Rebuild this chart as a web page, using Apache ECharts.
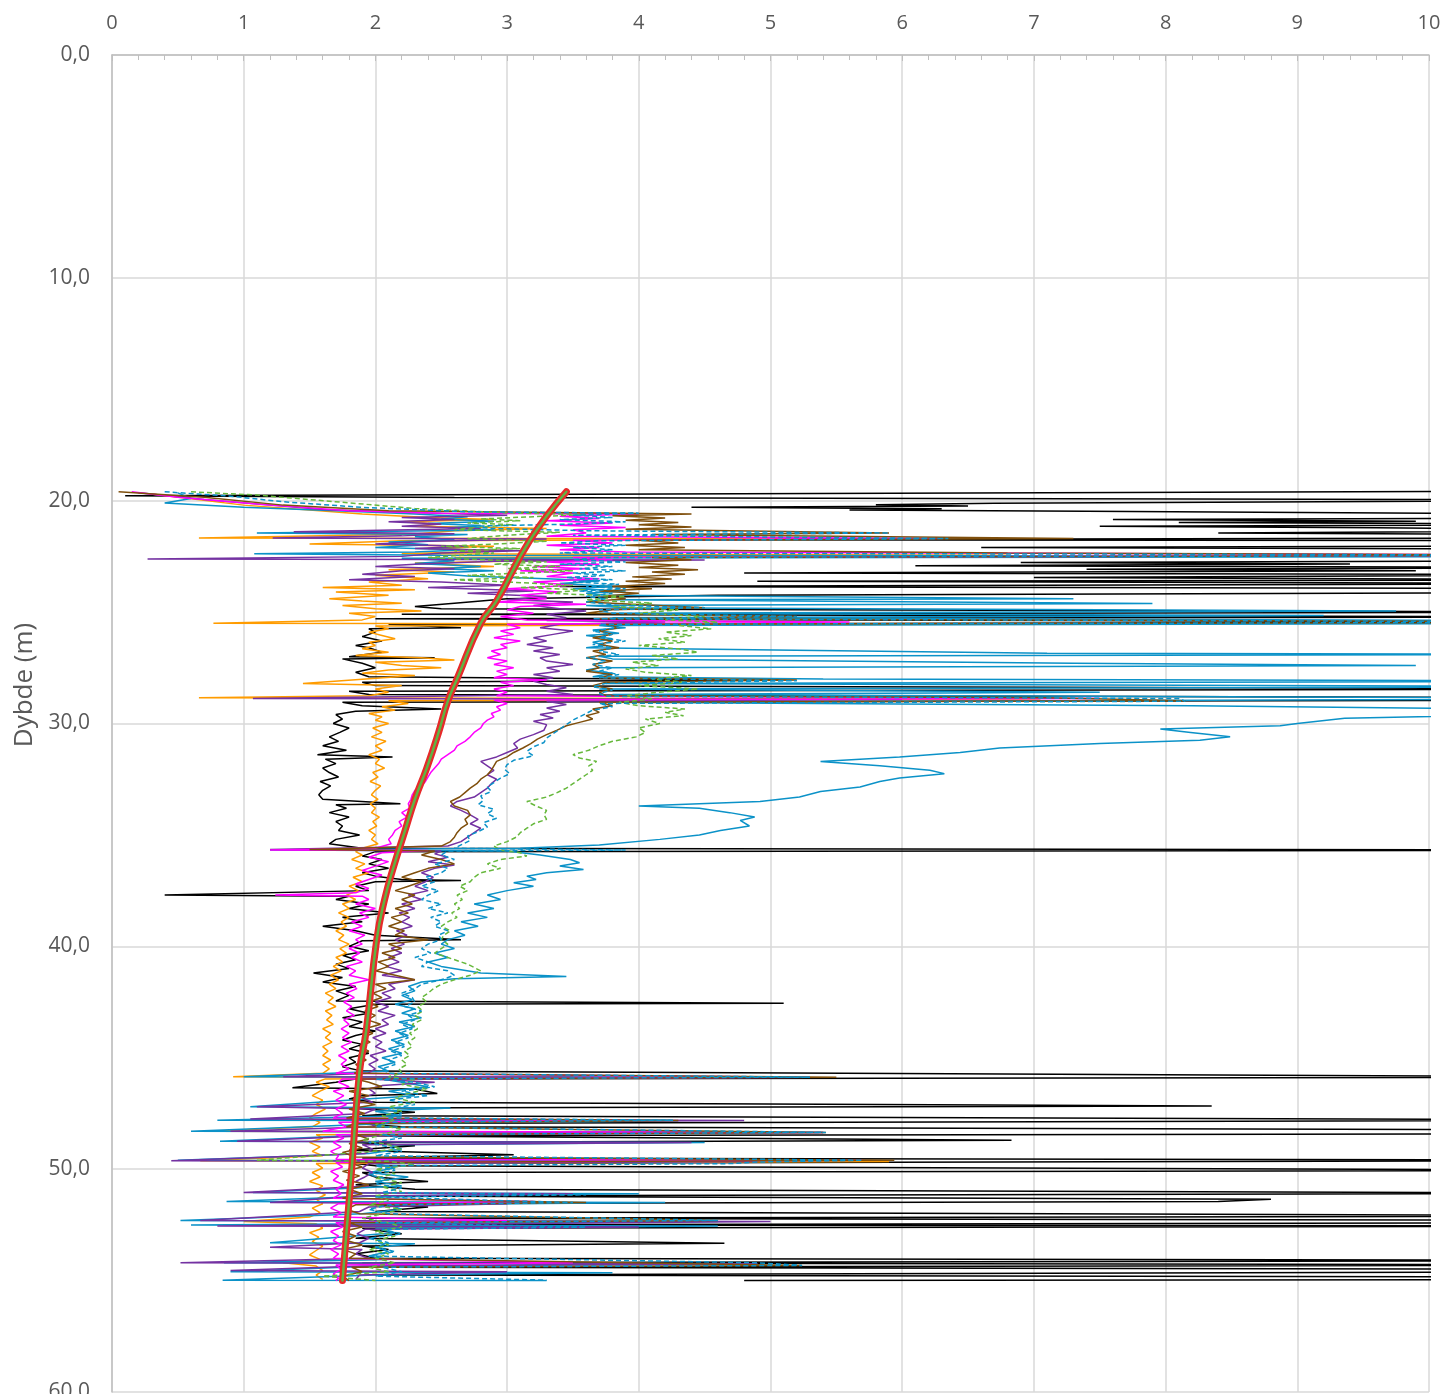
<!DOCTYPE html>
<html>
<head>
<meta charset="utf-8">
<script src="https://cdn.jsdelivr.net/npm/echarts@6/dist/echarts.min.js"></script>
<style>
  html, body { margin: 0; padding: 0; background: #fff; }
  #chart { width: 1441px; height: 1394px; }
</style>
</head>
<body>
<div id="chart"></div>
<script>
// Sounding logs: each entry is [value, depth (m)]
const blackLog = [
  [12,19.55],[0.1,19.78],[2.6,19.86],[12,19.97],[6.7,20.12],[5.8,20.18],[6.5,20.24],[4.4,20.3],[6.3,20.36],[5.6,20.42],[7.4,20.48],
  [12,20.62],[12,20.75],[7.6,20.85],[9.9,20.92],[8.1,20.98],[12,21.06],[7.5,21.15],[9.6,21.22],[12,21.32],[8.4,21.45],[12,21.55],
  [12,21.66],[4.3,21.75],[12,21.8],[12,21.92],[12,22.02],[6.6,22.1],[12,22.2],[12,22.35],[12,22.55],[12,22.68],[6.9,22.78],[9.4,22.84],
  [6.1,22.92],[12,23.0],[7.4,23.08],[9.9,23.15],[4.8,23.25],[12,23.32],[7.0,23.45],[12,23.55],[4.9,23.62],[12,23.72],[3.4,23.85],
  [12,23.95],[12,24.1],[4.6,24.25],[3.0,24.4],[2.6,24.6],[2.3,24.75],[2.5,24.85],[12,25.0],[2.2,25.1],[12,25.22],[2.0,25.3],[12,25.45],
  [2.1,25.55],[2.65,25.7],[1.95,25.75],[2.0,25.9],[1.9,26.1],[2.05,26.3],[1.85,26.5],[1.95,26.6],[2.05,26.8],[1.8,27.0],[2.45,27.05],
  [1.75,27.1],[1.9,27.3],[2.0,27.5],[1.85,27.7],[1.95,27.9],[4.9,28.05],[1.9,28.15],[2.0,28.3],[12,28.45],[1.8,28.55],[1.95,28.7],
  [12,28.85],[12,28.95],[1.75,29.05],[1.9,29.2],[2.5,29.35],[1.85,29.45],[1.7,29.6],[1.75,29.8],[1.68,30.0],[1.8,30.2],[1.73,30.4],
  [1.65,30.6],[1.72,30.8],[1.6,31.0],[1.78,31.2],[1.56,31.4],[2.13,31.5],[1.62,31.6],[1.7,31.8],[1.6,32.0],[1.65,32.2],[1.72,32.4],
  [1.58,32.6],[1.66,32.8],[1.6,33.0],[1.57,33.2],[1.6,33.4],[2.19,33.6],[1.7,33.65],[1.78,33.8],[1.65,34.0],[1.8,34.2],[1.7,34.4],
  [1.75,34.6],[1.72,34.8],[1.88,35.0],[1.7,35.2],[1.65,35.4],[1.9,35.6],[12,35.68],[2.0,35.75],[1.9,35.95],[2.05,36.1],[1.95,36.3],
  [2.1,36.5],[1.9,36.7],[2.0,36.85],[2.2,37.0],[2.65,37.05],[2.0,37.1],[1.85,37.3],[1.95,37.5],[0.4,37.7],[1.8,37.75],[1.7,37.9],
  [1.95,38.1],[1.8,38.3],[2.1,38.5],[1.75,38.7],[1.9,38.9],[1.6,39.1],[1.85,39.3],[2.0,39.5],[2.65,39.7],[1.9,39.75],[1.8,40.0],
  [1.95,40.2],[1.75,40.4],[1.85,40.6],[1.7,40.8],[1.8,41.0],[1.53,41.2],[1.75,41.4],[1.6,41.6],[1.85,41.8],[1.7,42.0],[1.8,42.2],
  [1.7,42.45],[5.1,42.55],[2.0,42.6],[1.8,42.8],[1.95,43.0],[1.75,43.2],[1.9,43.4],[1.8,43.6],[2.0,43.8],[1.85,44.0],[1.75,44.2],
  [1.9,44.4],[1.8,44.6],[1.95,44.8],[1.8,45.0],[1.85,45.2],[1.75,45.4],[1.9,45.6],[12,45.87],[1.85,45.95],[1.7,46.1],[1.37,46.35],
  [2.3,46.4],[2.47,46.6],[1.9,46.7],[1.8,46.85],[2.0,47.0],[8.35,47.17],[1.8,47.25],[2.3,47.45],[1.9,47.6],[12,47.8],[1.85,47.95],
  [2.2,48.1],[12,48.25],[12,48.4],[1.9,48.5],[6.83,48.7],[1.85,48.8],[2.3,48.95],[1.8,49.15],[3.05,49.35],[1.9,49.5],[12,49.6],
  [1.85,49.75],[2.0,49.85],[12,50.05],[1.9,50.15],[2.0,50.35],[2.4,50.55],[1.85,50.7],[2.3,50.9],[12,51.08],[1.9,51.2],[8.8,51.35],
  [8.4,51.45],[1.85,51.55],[2.4,51.7],[2.0,51.9],[12,52.1],[1.9,52.2],[12,52.3],[12,52.4],[1.85,52.5],[12,52.55],[1.9,52.65],
  [2.2,52.9],[1.85,53.1],[4.65,53.32],[1.9,53.45],[2.1,53.6],[1.85,53.8],[2.0,54.0],[12,54.1],[1.9,54.2],[12,54.3],[2.1,54.4],
  [12,54.5],[12,54.6],[2.0,54.75],[12,54.85],[12,54.95],[4.8,55.0]
];

const orangeLog = [
  [0.3,19.7],[1.0,20.2],[1.9,20.6],[2.4,20.75],[2.9,20.85],[2.2,20.95],[2.5,21.05],[2.3,21.15],[3.3,21.25],[2.6,21.35],[2.3,21.5],
  [0.66,21.68],[5.9,21.72],[2.2,21.8],[1.5,21.95],[2.9,22.05],[2.4,22.15],[3.0,22.25],[2.2,22.38],[6.8,22.45],[2.6,22.55],[3.6,22.65],
  [2.3,22.8],[2.9,22.95],[2.1,23.1],[2.6,23.2],[2.0,23.35],[2.4,23.5],[1.95,23.65],[2.2,23.8],[1.6,23.9],[2.3,24.0],[1.7,24.1],
  [2.1,24.25],[1.65,24.4],[1.9,24.5],[2.2,24.6],[1.75,24.7],[2.0,24.85],[2.35,24.95],[1.8,25.05],[2.0,25.2],[1.9,25.35],[0.77,25.5],
  [6.3,25.55],[2.0,25.62],[2.1,25.75],[1.95,25.9],[2.05,26.05],[2.15,26.2],[1.95,26.35],[2.0,26.5],[1.9,26.65],[2.1,26.8],[1.85,26.95],
  [2.35,27.05],[2.6,27.15],[2.0,27.25],[2.2,27.4],[2.5,27.5],[2.1,27.6],[1.9,27.75],[2.3,27.85],[1.45,28.2],[2.2,28.3],[2.0,28.45],
  [2.1,28.6],[1.95,28.75],[0.66,28.85],[7.05,28.9],[2.1,28.98],[2.25,29.1],[2.05,29.25],[2.15,29.4],[1.95,29.55],[2.05,29.7],[2.0,29.85],
  [2.1,30.0],[1.98,30.2],[2.05,30.4],[1.97,30.6],[2.08,30.8],[2.0,31.0],[2.05,31.2],[1.95,31.4],[2.03,31.6],[2.0,31.8],[2.07,32.0],
  [1.98,32.2],[2.02,32.4],[1.96,32.6],[2.04,32.8],[2.0,33.0],[1.97,33.2],[2.02,33.4],[1.96,33.6],[2.0,33.8],[1.97,34.0],[2.03,34.2],
  [1.98,34.4],[2.01,34.6],[1.95,34.8],[2.0,35.0],[1.97,35.2],[2.02,35.4],[1.9,35.6],[1.85,35.75],[1.9,35.9],[1.82,36.1],[1.92,36.3],
  [1.85,36.5],[1.95,36.7],[1.83,36.9],[1.9,37.1],[1.8,37.3],[1.87,37.5],[1.78,37.7],[1.85,37.9],[1.75,38.1],[1.8,38.3],[1.72,38.5],
  [1.8,38.7],[1.74,38.9],[1.78,39.1],[1.7,39.3],[1.76,39.5],[1.72,39.7],[1.8,39.9],[1.73,40.1],[1.78,40.3],[1.7,40.5],[1.75,40.7],
  [1.68,40.9],[1.74,41.1],[1.66,41.3],[1.72,41.5],[1.65,41.7],[1.7,41.9],[1.62,42.1],[1.68,42.3],[1.64,42.5],[1.7,42.7],[1.62,42.9],
  [1.67,43.1],[1.63,43.3],[1.68,43.5],[1.6,43.7],[1.66,43.9],[1.62,44.1],[1.67,44.3],[1.6,44.5],[1.64,44.7],[1.6,44.9],[1.66,45.1],
  [1.6,45.3],[1.65,45.5],[1.6,45.7],[0.92,45.85],[3.5,45.88],[1.62,45.95],[1.55,46.1],[1.65,46.3],[1.58,46.5],[1.52,46.7],[1.6,46.9],
  [1.55,47.1],[1.62,47.3],[1.55,47.5],[1.5,47.7],[1.58,47.9],[1.52,48.1],[0.77,48.3],[5.4,48.35],[1.55,48.45],[1.6,48.6],[1.5,48.8],
  [1.58,49.0],[1.52,49.2],[1.6,49.4],[0.67,49.62],[5.9,49.66],[1.55,49.75],[1.6,49.95],[1.52,50.15],[1.58,50.35],[1.5,50.55],[1.6,50.75],
  [1.55,50.95],[1.62,51.15],[1.55,51.35],[1.6,51.55],[1.52,51.75],[1.58,51.95],[1.5,52.15],[1.0,52.35],[1.55,52.45],[1.6,52.65],
  [1.5,52.85],[1.57,53.05],[1.52,53.25],[1.6,53.45],[1.55,53.65],[1.5,53.85],[1.58,54.05],[1.3,54.2],[1.55,54.35],[1.6,54.55],
  [1.55,54.75],[1.6,54.95]
];

const blueLog = [
  [0.5,19.65],[0.6,19.9],[0.4,20.1],[1.0,20.3],[1.7,20.45],[2.3,20.6],[2.7,20.72],[2.5,20.82],[2.9,20.92],[2.4,21.02],[2.8,21.12],
  [2.55,21.22],[2.9,21.32],[1.1,21.45],[2.7,21.52],[2.3,21.62],[2.6,21.75],[2.1,21.85],[2.4,21.98],[2.0,22.1],[2.7,22.2],[2.3,22.3],
  [1.08,22.38],[2.5,22.45],[12,22.5],[2.2,22.58],[2.6,22.7],[2.3,22.82],[2.8,22.95],[2.5,23.05],[2.9,23.15],[2.4,23.25],[2.7,23.38],
  [3.3,23.5],[3.7,23.6],[3.4,23.72],[3.8,23.85],[3.5,23.95],[3.9,24.05],[3.6,24.15],[3.75,24.25],[7.3,24.4],[3.8,24.45],[7.9,24.62],
  [3.6,24.7],[3.9,24.8],[9.75,24.95],[3.7,25.05],[9.2,25.15],[3.8,25.25],[12,25.4],[12,25.5],[3.7,25.6],[3.9,25.7],[3.65,25.8],
  [3.85,25.95],[3.6,26.05],[3.8,26.2],[3.65,26.35],[3.75,26.5],[3.6,26.6],[7.1,26.85],[12,26.9],[3.7,26.98],[3.8,27.1],[7.3,27.3],
  [9.9,27.4],[3.7,27.5],[3.6,27.6],[3.8,27.75],[3.65,27.9],[5.4,28.0],[12,28.1],[3.75,28.2],[12,28.35],[3.7,28.45],[7.5,28.6],
  [3.8,28.7],[12,28.88],[12,28.95],[3.75,29.05],[8.2,29.2],[12,29.45],[9.36,29.76],[9.0,30.0],[8.87,30.1],[7.96,30.25],[8.19,30.4],
  [8.49,30.6],[8.26,30.75],[7.5,30.9],[6.74,31.1],[6.44,31.3],[5.98,31.5],[5.38,31.7],[5.83,31.9],[6.21,32.1],[6.32,32.25],[5.98,32.45],
  [5.83,32.6],[5.68,32.85],[5.38,33.05],[5.22,33.3],[4.92,33.5],[4.0,33.7],[4.46,33.8],[4.69,34.0],[4.88,34.2],[4.77,34.35],[4.84,34.6],
  [4.62,34.8],[4.46,35.0],[4.16,35.2],[3.7,35.45],[3.1,35.6],[1.2,35.68],[3.0,35.72],[3.25,35.9],[3.48,36.1],[3.55,36.25],[3.4,36.4],
  [3.58,36.55],[3.3,36.7],[3.15,36.85],[3.22,37.0],[3.05,37.15],[3.2,37.3],[3.0,37.5],[2.85,37.7],[2.95,37.9],[2.75,38.1],[2.9,38.3],
  [2.7,38.5],[2.85,38.7],[2.65,38.9],[2.78,39.1],[2.6,39.3],[2.68,39.5],[2.55,39.7],[2.5,39.9],[2.6,40.1],[2.45,40.3],[2.55,40.5],
  [2.4,40.7],[2.5,40.9],[2.8,41.2],[3.45,41.35],[2.6,41.45],[2.35,41.6],[2.25,41.8],[2.3,42.0],[2.2,42.2],[2.28,42.4],[2.15,42.6],
  [2.3,42.8],[2.2,43.0],[2.35,43.2],[2.18,43.4],[2.3,43.6],[2.15,43.8],[2.25,44.0],[2.12,44.2],[2.22,44.4],[2.1,44.6],[2.2,44.8],
  [2.05,45.0],[2.15,45.2],[2.02,45.4],[2.1,45.6],[1.0,45.85],[4.0,45.88],[2.05,45.95],[2.2,46.1],[2.4,46.3],[2.1,46.5],[2.3,46.7],
  [1.05,47.2],[2.57,47.25],[2.0,47.4],[2.2,47.6],[0.8,47.8],[4.3,47.83],[2.1,47.95],[0.6,48.3],[5.4,48.35],[2.0,48.45],[0.82,48.75],
  [4.5,48.8],[2.1,48.9],[2.2,49.1],[1.95,49.3],[0.5,49.6],[4.7,49.65],[2.0,49.75],[2.15,49.95],[1.95,50.15],[2.25,50.35],[2.0,50.55],
  [2.2,50.75],[1.07,51.05],[4.0,51.1],[2.0,51.2],[0.87,51.45],[4.2,51.5],[2.1,51.6],[2.2,51.8],[1.9,52.0],[0.52,52.3],[4.6,52.35],
  [0.6,52.5],[4.6,52.55],[2.0,52.65],[2.15,52.85],[1.2,53.3],[2.3,53.35],[2.0,53.5],[2.1,53.7],[1.95,53.9],[2.1,54.05],[0.85,54.2],
  [4.9,54.25],[2.0,54.35],[0.9,54.6],[3.8,54.65],[2.0,54.75],[0.84,54.98],[3.3,55.0]
];

const purpleLog = [
  [0.2,19.65],[0.7,19.95],[1.2,20.2],[1.6,20.4],[2.4,20.55],[3.0,20.65],[2.2,20.75],[2.6,20.85],[2.1,20.95],[2.5,21.05],[2.2,21.15],
  [2.8,21.25],[1.38,21.4],[2.6,21.48],[2.2,21.58],[1.22,21.68],[3.3,21.72],[2.4,21.82],[2.0,21.95],[2.7,22.05],[2.3,22.15],[3.1,22.25],
  [2.5,22.35],[2.2,22.5],[0.27,22.62],[4.5,22.66],[2.9,22.72],[2.3,22.85],[2.0,22.95],[2.6,23.05],[2.2,23.15],[1.9,23.3],[2.3,23.4],
  [1.8,23.55],[2.5,23.65],[3.0,23.8],[2.4,23.9],[3.2,24.05],[2.7,24.15],[3.3,24.3],[3.0,24.45],[3.5,24.55],[3.2,24.7],[3.4,24.85],
  [3.6,24.95],[3.3,25.1],[3.45,25.25],[3.3,25.38],[4.2,25.45],[3.4,25.55],[3.25,25.7],[3.5,25.85],[3.35,26.0],[3.2,26.15],[3.3,26.3],
  [3.15,26.45],[3.35,26.6],[3.2,26.75],[3.4,26.9],[3.25,27.05],[3.3,27.2],[3.5,27.35],[3.3,27.5],[3.4,27.65],[3.2,27.8],[3.35,27.95],
  [3.2,28.1],[3.3,28.25],[3.45,28.4],[3.3,28.55],[3.5,28.7],[1.07,28.88],[6.0,28.92],[3.3,29.0],[3.45,29.15],[3.3,29.3],[3.4,29.45],
  [3.25,29.6],[3.35,29.75],[3.2,29.9],[3.3,30.05],[3.28,30.3],[3.2,30.5],[3.1,30.7],[3.05,30.9],[3.08,31.1],[3.0,31.3],[2.92,31.5],
  [2.8,31.7],[2.85,31.9],[2.9,32.1],[2.85,32.3],[2.92,32.5],[2.88,32.7],[2.85,32.9],[2.8,33.1],[2.75,33.3],[2.62,33.5],[2.57,33.7],
  [2.65,33.9],[2.72,34.1],[2.78,34.3],[2.72,34.5],[2.8,34.7],[2.75,34.9],[2.7,35.1],[2.65,35.3],[2.55,35.5],[1.2,35.66],[2.5,35.72],
  [2.45,35.85],[2.55,36.0],[2.4,36.2],[2.6,36.35],[2.45,36.5],[2.35,36.7],[2.44,36.9],[2.38,37.1],[2.3,37.3],[2.4,37.5],[2.25,37.7],
  [2.35,37.9],[2.2,38.1],[2.3,38.3],[2.18,38.5],[2.26,38.7],[2.2,38.9],[2.28,39.1],[2.16,39.3],[2.24,39.5],[2.15,39.7],[2.22,39.9],
  [2.12,40.1],[2.2,40.3],[2.1,40.5],[2.18,40.7],[2.08,40.9],[2.2,41.1],[2.05,41.3],[2.3,41.5],[2.1,41.7],[2.15,41.9],[2.05,42.1],
  [2.12,42.3],[2.0,42.5],[2.1,42.7],[2.02,42.9],[2.15,43.1],[2.05,43.3],[2.1,43.5],[2.0,43.7],[2.08,43.9],[1.98,44.1],[2.05,44.3],
  [2.0,44.5],[2.08,44.7],[1.96,44.9],[2.02,45.1],[1.95,45.3],[2.0,45.5],[1.94,45.7],[1.3,45.85],[4.9,45.88],[1.95,45.95],[2.45,46.1],
  [2.05,46.25],[1.95,46.4],[2.0,46.6],[1.9,46.8],[1.98,47.0],[1.1,47.2],[2.0,47.3],[1.92,47.5],[1.05,47.75],[4.8,47.82],[1.95,47.9],
  [2.0,48.1],[0.9,48.3],[4.5,48.35],[1.95,48.5],[0.95,48.75],[4.4,48.8],[1.9,48.9],[1.98,49.1],[1.92,49.3],[0.45,49.62],[4.9,49.66],
  [1.95,49.75],[1.9,49.95],[1.98,50.15],[1.92,50.35],[1.85,50.55],[1.95,50.75],[1.0,51.05],[3.5,51.1],[1.9,51.2],[1.2,51.5],[3.0,51.55],
  [1.95,51.7],[1.88,51.9],[0.67,52.3],[5.0,52.35],[0.8,52.55],[4.0,52.6],[1.92,52.7],[1.86,52.9],[1.95,53.1],[1.88,53.3],[1.2,53.5],
  [1.9,53.6],[1.85,53.8],[1.95,54.0],[0.52,54.2],[4.9,54.25],[1.9,54.35],[0.9,54.55],[3.0,54.6],[1.88,54.75],[1.85,54.95]
];

const magentaLog = [
  [0.15,19.6],[0.5,19.85],[1.1,20.15],[1.8,20.45],[2.5,20.56],[4.0,20.6],[3.4,20.7],[3.7,20.8],[3.3,20.9],[3.8,21.0],[3.4,21.1],
  [3.9,21.2],[3.5,21.3],[3.6,21.45],[3.3,21.6],[6.3,21.7],[3.5,21.78],[3.8,21.9],[3.3,22.0],[3.7,22.1],[3.4,22.2],[3.9,22.3],[12,22.45],
  [3.5,22.55],[3.8,22.65],[3.3,22.75],[3.7,22.85],[3.2,22.95],[3.6,23.05],[3.1,23.15],[3.5,23.25],[3.3,23.4],[3.7,23.5],[3.2,23.65],
  [3.5,23.8],[3.0,23.95],[3.4,24.1],[3.1,24.25],[3.3,24.4],[2.9,24.55],[3.6,24.65],[3.1,24.75],[3.0,24.9],[3.2,25.05],[2.95,25.2],
  [3.15,25.35],[5.6,25.45],[3.0,25.55],[3.1,25.7],[2.95,25.85],[3.05,26.0],[2.9,26.15],[3.1,26.3],[2.95,26.45],[3.0,26.6],[2.88,26.75],
  [2.95,26.9],[2.85,27.05],[3.0,27.2],[2.9,27.35],[3.05,27.5],[2.92,27.65],[3.0,27.8],[2.9,27.95],[3.3,28.05],[2.95,28.15],[3.05,28.3],
  [2.9,28.45],[3.0,28.6],[2.92,28.75],[7.5,28.88],[2.9,28.95],[3.0,29.1],[2.92,29.25],[2.95,29.4],[2.88,29.55],[2.9,29.7],[2.85,29.85],
  [2.82,30.0],[2.8,30.2],[2.75,30.4],[2.72,30.6],[2.68,30.8],[2.62,31.0],[2.6,31.2],[2.55,31.4],[2.5,31.6],[2.48,31.8],[2.45,32.0],
  [2.42,32.2],[2.4,32.4],[2.38,32.6],[2.35,32.8],[2.3,33.0],[2.28,33.2],[2.27,33.4],[2.25,33.6],[2.26,33.8],[2.2,34.0],[2.24,34.2],
  [2.18,34.4],[2.2,34.6],[2.15,34.8],[2.13,35.0],[2.1,35.2],[2.12,35.4],[2.0,35.6],[1.2,35.68],[2.4,35.7],[2.05,35.8],[1.95,36.0],
  [2.1,36.2],[2.0,36.4],[1.9,36.6],[2.05,36.8],[1.95,37.0],[1.85,37.2],[1.95,37.4],[1.85,37.6],[1.24,37.7],[1.9,37.75],[1.95,37.9],
  [1.85,38.1],[2.0,38.3],[1.88,38.5],[1.95,38.7],[1.82,38.9],[1.9,39.1],[1.8,39.3],[1.92,39.5],[1.85,39.7],[1.9,39.9],[1.8,40.1],
  [1.88,40.3],[1.82,40.5],[1.9,40.7],[1.78,40.9],[1.85,41.1],[1.8,41.3],[1.95,41.5],[1.8,41.7],[1.86,41.9],[1.78,42.1],[1.84,42.3],
  [1.76,42.5],[1.82,42.7],[1.78,42.9],[1.84,43.1],[1.76,43.3],[1.8,43.5],[1.74,43.7],[1.8,43.9],[1.75,44.1],[1.82,44.3],[1.74,44.5],
  [1.8,44.7],[1.72,44.9],[1.78,45.1],[1.74,45.3],[1.8,45.5],[1.7,45.7],[5.3,45.87],[1.75,45.95],[1.72,46.1],[1.8,46.3],[1.68,46.5],
  [1.76,46.7],[1.7,46.9],[1.78,47.1],[1.7,47.3],[1.75,47.5],[1.68,47.7],[4.0,47.8],[1.72,47.9],[1.78,48.1],[1.6,48.3],[5.4,48.35],
  [1.7,48.45],[1.76,48.6],[1.68,48.8],[1.74,49.0],[1.66,49.2],[1.72,49.4],[1.7,49.55],[5.7,49.6],[1.7,49.7],[1.75,49.9],[1.66,50.1],
  [1.72,50.3],[1.68,50.5],[1.76,50.7],[1.7,50.9],[1.74,51.1],[1.68,51.3],[3.2,51.45],[1.72,51.55],[1.66,51.75],[1.74,51.95],[1.68,52.15],
  [3.0,52.3],[1.7,52.4],[1.75,52.6],[1.66,52.8],[1.72,53.0],[1.68,53.2],[1.74,53.4],[1.66,53.6],[1.72,53.8],[1.68,54.0],[3.5,54.2],
  [1.7,54.3],[1.74,54.5],[1.68,54.7],[1.72,54.9],[1.7,55.0]
];

const brownLog = [
  [0.05,19.6],[0.7,19.85],[1.3,20.2],[2.1,20.45],[4.4,20.6],[3.8,20.68],[4.2,20.78],[3.9,20.88],[4.3,20.98],[4.0,21.08],[4.4,21.18],
  [3.9,21.28],[5.9,21.45],[4.1,21.52],[7.3,21.7],[4.0,21.78],[4.3,21.9],[3.9,22.0],[4.35,22.1],[4.0,22.2],[6.8,22.35],[12,22.45],
  [4.1,22.55],[4.4,22.65],[3.9,22.78],[4.3,22.9],[4.0,23.0],[4.45,23.1],[4.1,23.2],[4.35,23.3],[3.95,23.42],[4.25,23.52],[3.9,23.62],
  [4.2,23.72],[3.8,23.85],[4.1,23.95],[3.7,24.05],[4.0,24.15],[3.75,24.28],[3.9,24.4],[3.6,24.55],[4.5,24.8],[3.8,24.9],[3.6,25.05],
  [5.2,25.2],[3.7,25.3],[12,25.45],[3.75,25.55],[3.85,25.7],[3.7,25.85],[3.8,26.0],[3.65,26.15],[3.8,26.3],[3.7,26.45],[3.85,26.6],
  [3.65,26.75],[3.75,26.9],[3.6,27.05],[3.8,27.2],[3.65,27.35],[3.7,27.5],[3.6,27.65],[3.8,27.8],[3.7,27.95],[5.2,28.05],[3.75,28.15],
  [3.65,28.3],[3.8,28.45],[3.7,28.6],[3.75,28.75],[7.1,28.85],[8.15,28.98],[3.7,29.05],[3.8,29.2],[3.65,29.35],[3.7,29.5],[3.6,29.65],
  [3.65,29.8],[3.55,29.95],[3.45,30.1],[3.38,30.3],[3.3,30.5],[3.23,30.7],[3.18,30.9],[3.12,31.1],[3.05,31.3],[3.0,31.5],[2.92,31.7],
  [2.9,31.9],[2.88,32.1],[2.85,32.3],[2.8,32.5],[2.77,32.7],[2.72,32.9],[2.68,33.1],[2.64,33.3],[2.57,33.5],[2.6,33.7],[2.7,33.9],
  [2.72,34.1],[2.68,34.3],[2.7,34.5],[2.65,34.7],[2.62,34.9],[2.6,35.1],[2.57,35.3],[2.5,35.5],[1.5,35.66],[2.45,35.72],[2.35,35.9],
  [2.5,36.1],[2.6,36.3],[2.4,36.5],[2.3,36.7],[2.2,36.9],[2.35,37.1],[2.25,37.3],[2.15,37.5],[2.3,37.7],[2.2,37.9],[2.28,38.1],
  [2.15,38.3],[2.25,38.5],[2.12,38.7],[2.2,38.9],[2.1,39.1],[2.22,39.3],[2.15,39.5],[2.4,39.7],[2.1,39.9],[2.2,40.1],[2.05,40.3],
  [2.15,40.5],[2.02,40.7],[2.1,40.9],[2.0,41.1],[2.15,41.3],[2.3,41.5],[2.0,41.7],[2.08,41.9],[1.98,42.1],[2.05,42.3],[1.95,42.5],
  [2.02,42.7],[1.92,42.9],[2.0,43.1],[1.94,43.3],[2.04,43.5],[1.92,43.7],[1.98,43.9],[1.9,44.1],[1.96,44.3],[1.88,44.5],[1.95,44.7],
  [1.87,44.9],[1.93,45.1],[1.85,45.3],[1.9,45.5],[1.84,45.7],[5.5,45.87],[1.85,45.95],[1.95,46.1],[2.05,46.3],[1.8,46.5],[1.95,46.7],
  [1.82,46.9],[2.0,47.1],[1.8,47.3],[1.92,47.5],[1.78,47.7],[4.3,47.82],[1.85,47.95],[1.78,48.1],[5.42,48.35],[1.85,48.45],[1.95,48.65],
  [1.8,48.85],[1.9,49.05],[1.75,49.25],[1.85,49.45],[5.94,49.6],[1.8,49.7],[1.9,49.9],[1.75,50.1],[1.88,50.3],[1.78,50.5],[1.95,50.7],
  [1.8,50.9],[1.9,51.1],[1.75,51.3],[3.6,51.5],[1.85,51.6],[1.78,51.8],[1.88,52.0],[4.6,52.3],[1.8,52.4],[1.9,52.6],[1.75,52.8],
  [1.85,53.0],[1.78,53.2],[1.9,53.4],[1.75,53.6],[1.85,53.8],[1.8,54.0],[5.24,54.32],[1.82,54.4],[1.9,54.6],[1.75,54.8],[1.8,55.0]
];

const greenDashLog = [
  [0.6,19.6],[1.1,19.75],[1.5,19.95],[1.8,20.1],[2.3,20.35],[3.0,20.55],[3.6,20.62],[3.2,20.72],[2.8,20.82],[3.1,20.9],[2.7,21.0],
  [3.05,21.08],[2.8,21.18],[2.6,21.3],[3.4,21.42],[3.0,21.55],[2.7,21.7],[3.3,21.82],[2.9,21.95],[2.5,22.05],[3.1,22.15],[2.6,22.25],
  [2.9,22.35],[2.4,22.55],[2.8,22.65],[3.3,22.75],[2.9,22.85],[3.4,22.95],[3.0,23.05],[3.5,23.15],[3.1,23.25],[2.7,23.35],[3.2,23.45],
  [2.6,23.55],[3.0,23.65],[3.5,23.8],[3.1,23.9],[3.6,24.0],[3.3,24.15],[3.9,24.3],[3.6,24.45],[4.1,24.6],[3.8,24.75],[4.3,24.9],
  [4.0,25.05],[4.5,25.2],[4.2,25.35],[4.6,25.45],[4.3,25.6],[4.55,25.75],[4.2,25.9],[4.4,26.05],[4.15,26.2],[4.35,26.35],[4.0,26.5],
  [4.3,26.65],[4.45,26.8],[4.1,26.95],[4.3,27.1],[3.95,27.25],[4.15,27.4],[3.9,27.55],[4.05,27.7],[4.4,27.85],[4.1,28.0],[4.35,28.15],
  [4.0,28.3],[4.45,28.45],[4.15,28.6],[3.9,28.75],[4.1,28.9],[3.85,29.05],[4.0,29.2],[4.35,29.35],[4.2,29.5],[4.34,29.65],[4.05,29.8],
  [4.16,30.0],[4.0,30.2],[4.05,30.4],[3.98,30.6],[3.8,30.8],[3.7,31.0],[3.62,31.2],[3.5,31.4],[3.55,31.55],[3.68,31.7],[3.62,31.9],
  [3.65,32.1],[3.6,32.3],[3.55,32.5],[3.5,32.7],[3.45,32.9],[3.38,33.1],[3.3,33.3],[3.15,33.5],[3.22,33.7],[3.3,33.9],[3.28,34.1],
  [3.3,34.3],[3.2,34.5],[3.15,34.7],[3.1,34.9],[3.07,35.1],[3.0,35.3],[2.9,35.5],[2.95,35.68],[3.1,35.8],[3.15,35.95],[2.95,36.1],
  [2.85,36.3],[2.95,36.5],[2.8,36.7],[2.75,36.9],[2.72,37.1],[2.64,37.3],[2.7,37.5],[2.62,37.7],[2.66,37.9],[2.6,38.1],[2.64,38.3],
  [2.58,38.5],[2.62,38.7],[2.55,38.9],[2.5,39.1],[2.57,39.3],[2.52,39.5],[2.5,39.7],[2.55,39.9],[2.5,40.1],[2.45,40.3],[2.55,40.5],
  [2.7,40.8],[2.8,41.1],[2.72,41.3],[2.6,41.5],[2.5,41.7],[2.44,41.9],[2.4,42.1],[2.35,42.3],[2.39,42.5],[2.32,42.7],[2.36,42.9],
  [2.3,43.1],[2.35,43.3],[2.28,43.5],[2.32,43.7],[2.26,43.9],[2.3,44.1],[2.25,44.3],[2.28,44.5],[2.22,44.7],[2.26,44.9],[2.2,45.1],
  [2.24,45.3],[2.18,45.5],[2.2,45.7],[2.1,45.85],[2.3,46.0],[2.2,46.2],[2.4,46.4],[2.25,46.6],[2.15,46.8],[2.3,47.0],[2.1,47.2],
  [2.2,47.4],[2.05,47.6],[2.15,47.8],[2.0,48.0],[2.2,48.2],[2.05,48.45],[1.9,48.7],[2.1,48.9],[2.2,49.1],[1.1,49.6],[2.1,49.65],
  [2.3,49.8],[2.0,50.0],[2.15,50.2],[2.0,50.4],[2.2,50.6],[2.05,50.8],[2.2,51.0],[2.0,51.2],[2.1,51.4],[1.95,51.6],[2.2,51.8],
  [2.05,52.0],[1.9,52.2],[2.1,52.4],[2.2,52.6],[2.0,52.8],[2.15,53.0],[2.0,53.2],[2.1,53.4],[1.95,53.6],[2.1,53.8],[2.0,54.0],
  [2.15,54.2],[1.95,54.4],[2.1,54.6],[1.6,54.8],[2.0,55.0]
];

const blueDashLog = [
  [0.4,19.6],[0.9,19.8],[1.3,20.05],[1.9,20.3],[2.7,20.5],[4.0,20.56],[3.5,20.65],[3.8,20.75],[3.4,20.85],[3.9,20.95],[3.5,21.05],
  [2.7,21.15],[2.9,21.25],[3.6,21.35],[5.9,21.45],[3.5,21.55],[6.35,21.7],[3.7,21.8],[3.4,21.9],[3.9,22.0],[3.5,22.1],[3.8,22.2],
  [3.4,22.35],[12,22.45],[3.7,22.55],[3.5,22.65],[3.9,22.75],[3.4,22.85],[3.8,22.95],[3.55,23.05],[3.9,23.15],[3.5,23.25],[3.75,23.35],
  [3.45,23.45],[3.8,23.55],[3.5,23.65],[3.85,23.75],[3.6,23.85],[3.9,23.95],[3.55,24.05],[3.8,24.15],[3.6,24.3],[3.75,24.4],[3.6,24.55],
  [3.85,24.7],[4.5,24.8],[3.7,24.9],[3.8,25.05],[5.2,25.2],[3.65,25.3],[12,25.45],[3.7,25.55],[3.85,25.7],[3.65,25.85],[3.8,26.0],
  [3.7,26.15],[3.9,26.3],[3.65,26.45],[3.8,26.6],[3.7,26.75],[3.85,26.9],[3.6,27.05],[3.75,27.2],[3.65,27.35],[3.8,27.5],[3.7,27.65],
  [3.85,27.8],[3.7,27.95],[5.2,28.08],[3.75,28.2],[3.65,28.35],[3.8,28.5],[3.7,28.65],[3.75,28.78],[8.1,28.88],[8.15,29.0],[3.7,29.1],
  [3.8,29.25],[3.65,29.4],[3.6,29.55],[3.55,29.7],[3.5,29.85],[3.45,30.05],[3.4,30.25],[3.35,30.45],[3.3,30.65],[3.28,30.85],[3.2,31.05],
  [3.15,31.25],[3.2,31.45],[3.05,31.65],[3.0,31.85],[2.98,32.05],[3.02,32.25],[2.95,32.45],[2.9,32.65],[2.85,32.85],[2.88,33.05],
  [2.8,33.25],[2.82,33.45],[2.78,33.65],[2.9,33.85],[2.85,34.05],[2.92,34.25],[2.82,34.45],[2.85,34.65],[2.78,34.85],[2.7,35.05],
  [2.72,35.25],[2.65,35.45],[2.6,35.6],[3.9,35.68],[2.55,35.72],[2.5,35.9],[2.6,36.1],[2.45,36.3],[2.55,36.5],[2.5,36.7],[2.38,36.9],
  [2.45,37.1],[2.35,37.3],[2.48,37.5],[2.4,37.7],[2.35,37.9],[2.5,38.1],[2.4,38.3],[2.55,38.5],[2.42,38.7],[2.5,38.9],[2.45,39.1],
  [2.55,39.3],[2.48,39.5],[2.5,39.7],[2.4,39.9],[2.35,40.1],[2.42,40.3],[2.3,40.5],[2.4,40.7],[2.35,40.9],[2.55,41.1],[2.6,41.3],
  [2.5,41.5],[2.35,41.7],[2.3,41.9],[2.2,42.1],[2.28,42.3],[2.3,42.5],[2.22,42.7],[2.35,42.9],[2.25,43.1],[2.3,43.3],[2.2,43.5],
  [2.28,43.7],[2.18,43.9],[2.25,44.1],[2.15,44.3],[2.22,44.5],[2.12,44.7],[2.2,44.9],[2.1,45.1],[2.15,45.3],[2.05,45.5],[2.1,45.7],
  [5.3,45.87],[2.0,45.95],[2.3,46.1],[2.45,46.3],[2.2,46.5],[2.4,46.7],[2.1,46.9],[2.3,47.1],[2.1,47.3],[2.2,47.5],[2.1,47.7],
  [4.26,47.8],[2.1,47.9],[2.0,48.1],[5.42,48.35],[2.05,48.45],[2.2,48.6],[1.95,48.8],[2.1,49.0],[2.2,49.2],[2.0,49.4],[5.7,49.6],
  [4.9,49.68],[4.7,49.75],[2.0,49.85],[2.15,50.05],[1.95,50.25],[2.1,50.45],[2.0,50.65],[2.2,50.85],[2.05,51.05],[3.6,51.15],[2.0,51.25],
  [3.5,51.5],[2.1,51.6],[1.95,51.8],[2.1,52.0],[4.6,52.3],[2.0,52.4],[3.6,52.6],[2.05,52.7],[2.2,52.9],[1.95,53.1],[2.1,53.3],
  [2.0,53.5],[2.15,53.7],[1.95,53.9],[4.9,54.2],[5.24,54.32],[2.05,54.4],[2.2,54.6],[2.0,54.8],[3.3,54.98]
];

// Fitted trend through the logs
const trendLine = [
  [3.45,19.6],[3.17,21.8],[2.92,24.5],[2.8,25.5],[2.62,28.0],[2.55,29.0],[2.48,30.4],[2.39,32.0],[2.3,33.4],[2.22,34.9],
  [2.14,36.4],[2.07,37.9],[2.01,39.7],[1.93,43.8],[1.88,45.6],[1.82,50.0],[1.75,55.0]
];

const valueTicks = { min: 0, max: 10, step: 1 };
const depthTicks = { min: 0, max: 60, step: 10 };

const chart = echarts.init(document.getElementById('chart'), null, { renderer: 'canvas' });

function logSeries(name, data, color, dashed) {
  return {
    name: name,
    type: 'line',
    data: data,
    showSymbol: false,
    symbol: 'none',
    clip: true,
    lineStyle: { color: color, width: 1.5, type: dashed ? [5, 3] : 'solid' },
    emphasis: { disabled: true },
    animation: false
  };
}

const font = '"Open Sans", "Noto Sans", sans-serif';

chart.setOption({
  animation: false,
  backgroundColor: '#ffffff',
  grid: { left: 112, top: 55, right: 12, bottom: 2, containLabel: false, outerBoundsMode: 'none' },
  xAxis: {
    type: 'value',
    position: 'top',
    min: valueTicks.min,
    max: valueTicks.max,
    interval: valueTicks.step,
    axisLine: { show: true, lineStyle: { color: '#bfbfbf', width: 1.5 } },
    axisTick: { show: true, inside: true, length: 6, lineStyle: { color: '#bfbfbf' } },
    minorTick: { show: true, splitNumber: 5, length: 5, lineStyle: { color: '#bfbfbf' } },
    axisLabel: { color: '#595959', fontSize: 20, fontFamily: font, margin: 22, hideOverlap: false },
    splitLine: { show: true, lineStyle: { color: '#d9d9d9', width: 1.5 } }
  },
  yAxis: {
    type: 'value',
    inverse: true,
    min: depthTicks.min,
    max: depthTicks.max,
    interval: depthTicks.step,
    axisLine: { show: true, onZero: false, lineStyle: { color: '#bfbfbf', width: 1.5 } },
    axisTick: { show: false },
    axisLabel: {
      color: '#595959', fontSize: 21, fontFamily: font, margin: 22, hideOverlap: false,
      formatter: v => v.toFixed(1).replace('.', ',')
    },
    splitLine: { show: true, lineStyle: { color: '#d9d9d9', width: 1.5 } }
  },
  graphic: [{
    type: 'text',
    x: 25,
    y: 685,
    rotation: Math.PI / 2,
    style: {
      text: 'Dybde (m)',
      align: 'center',
      verticalAlign: 'middle',
      font: '26px ' + font,
      fill: '#595959'
    }
  }],
  series: [
    logSeries('Black', blackLog, '#000000', false),
    logSeries('Orange', orangeLog, '#ff9c00', false),
    logSeries('Blue', blueLog, '#0b92c8', false),
    logSeries('Purple', purpleLog, '#7432a2', false),
    logSeries('Magenta', magentaLog, '#ff00ff', false),
    logSeries('Brown', brownLog, '#7f4f0c', false),
    logSeries('Green dashed', greenDashLog, '#66b83c', true),
    logSeries('Blue dashed', blueDashLog, '#0b92c8', true),
    {
      name: 'Trend',
      type: 'line',
      data: trendLine,
      smooth: true,
      showSymbol: false,
      symbol: 'none',
      lineStyle: { color: '#e62a2a', width: 7, cap: 'round' },
      z: 5,
      animation: false
    },
    {
      name: 'Trend core',
      type: 'line',
      data: trendLine,
      smooth: true,
      showSymbol: false,
      symbol: 'none',
      lineStyle: { color: '#5fb443', width: 2.5, cap: 'round' },
      z: 6,
      animation: false
    }
  ]
});
</script>
</body>
</html>
